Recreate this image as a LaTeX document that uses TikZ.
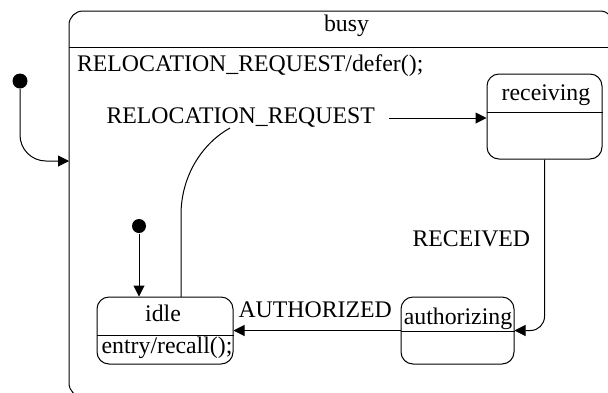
\documentclass[tikz,border=0pt]{standalone}
\usepackage{fontspec}
\setmainfont{Liberation Serif}
\usetikzlibrary{arrows.meta}
\begin{document}
\begin{tikzpicture}[x=1pt,y=-1pt, line width=1pt,
  every node/.style={font=\fontsize{23.8}{28}\selectfont, inner sep=0pt},
  statebox/.style={draw, rounded corners=12pt, inner sep=0pt},
  txt/.style={anchor=base},
  txtw/.style={anchor=base west},
  initdot/.style={circle, fill=black, minimum size=15pt, inner sep=0pt},
  tr/.style={-{Triangle[length=11pt,width=11pt]}}]
\useasboundingbox (0,0) rectangle (608,392);
\begin{scope}
\clip (0,0) rectangle (608,392);
\node[statebox, rounded corners=14pt, minimum width=545pt, minimum height=386pt] (busy) at (341.5,204) {};
\draw (busy.west |- 0,47.5) -- (busy.east |- 0,47.5);
\end{scope}
\node[txt] (busylbl) at (346.5,31) {busy};
\node[txtw] (defer) at (76.5,71.5) {RELOCATION\_REQUEST/defer();};

% states
\node[statebox, minimum width=115pt, minimum height=85pt] (receiving) at (544.5,116.5) {};
\draw (receiving.west |- 0,112) -- (receiving.east |- 0,112);
\node[txt] (reclbl) at (546,100) {receiving};

\node[statebox, minimum width=113pt, minimum height=67pt] (authorizing) at (457.5,330.5) {};
\draw (authorizing.west |- 0,331) -- (authorizing.east |- 0,331);
\node[txt] (authlbl) at (458,324) {authorizing};

\node[statebox, minimum width=136pt, minimum height=67pt] (idle) at (165,330.5) {};
\draw (idle.west |- 0,335) -- (idle.east |- 0,335);
\node[txt] (idlelbl) at (163,321) {idle};
\node[txt] (entrylbl) at (167,353) {entry/recall();};

% initial pseudostates
\node[initdot] (init1) at (20,81) {};
\node[initdot, minimum size=14pt] (init2) at (139,226) {};

% transition labels
\node[txtw] (rrq) at (106,123) {RELOCATION\_REQUEST};
\node[txtw] (received) at (412,246.5) {RECEIVED};
\node[txtw] (authorized) at (238,317) {AUTHORIZED};

\coordinate (busyin) at (69,161);
\coordinate (rrqstart) at (389,118);
\coordinate (rrqfoot) at (230,128);
\coordinate (idletop) at (181,297);

% connectors
\draw[tr, rounded corners=26pt] (init1) |- (busyin);
\draw[tr] (init2) -- (init2 |- idle.north);
\draw[tr] (rrqstart) -- (rrqstart -| receiving.west);
\draw[tr, rounded corners=14pt] (receiving.south) |- (authorizing.east);
\draw[tr] (authorizing.west) -- (idle.east);
\draw (idletop) -- ++(0,-82) .. controls (181,175) and (203,143) .. (rrqfoot);
\end{tikzpicture}
\end{document}
